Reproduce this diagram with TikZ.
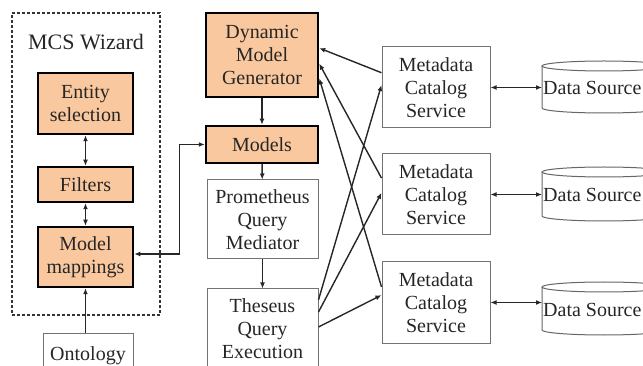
\documentclass[tikz,border=0pt]{standalone}
\usepackage{fontspec}
\setmainfont{Liberation Serif}
\newfontfamily\serf{Liberation Serif}
\usetikzlibrary{arrows.meta,calc}
\definecolor{peach}{RGB}{250,200,158}
\begin{document}
\begin{tikzpicture}[x=1pt,y=-1pt,
 txt/.style={font=\serf\fontsize{20}{23}\selectfont, text=black!85, align=center},
 obox/.style={txt, draw=black, line width=2.5pt, fill=peach, inner sep=0pt},
 wbox/.style={txt, draw=black!55, line width=1pt, fill=white, inner sep=0pt},
 wizbox/.style={draw=black!80, dash pattern=on 3pt off 2pt, line width=1.3pt, inner sep=0pt},
 arr/.style={-{Latex[length=6pt,width=5pt]}, line width=1.4pt, draw=black!85},
 biarr/.style={{Latex[length=6pt,width=5pt]}-{Latex[length=6pt,width=5pt]}, line width=1.4pt, draw=black!85},
 cyl/.style={draw=black!60, line width=1pt}]
\useasboundingbox (0,0) rectangle (643,366);
% wizard frame
\node[wizbox, minimum width=148pt, minimum height=302pt] (wiz) at (86,164) {};
\node[txt, font=\serf\fontsize{22}{24}\selectfont] (title) at (86,42) {MCS Wizard};
\node[obox, minimum width=95pt, minimum height=61pt] (ent) at (85.5,103.5) {Entity\\selection};
\node[obox, minimum width=95pt, minimum height=35pt] (fil) at (85.5,184.5) {Filters};
\node[obox, minimum width=95pt, minimum height=60pt] (mm) at (85.5,257) {Model\\mappings};
\node[wbox, minimum width=90pt, minimum height=45pt] (ont) at (88,355.5) {Ontology};
% middle column
\node[obox, minimum width=112pt, minimum height=84pt] (dmg) at (262,55) {Dynamic\\Model\\Generator};
\node[obox, minimum width=112pt, minimum height=37pt] (mod) at (262,144.5) {Models};
\node[wbox, minimum width=111pt, minimum height=79pt] (pqm) at (262.5,219.5) {Prometheus\\Query\\Mediator};
\node[wbox, minimum width=111pt, minimum height=80pt] (tqe) at (262.5,329) {Theseus\\Query\\Execution};
% catalog services
\node[wbox, minimum width=108pt, minimum height=81pt] (mcs1) at (436,87.5) {Metadata\\Catalog\\Service};
\node[wbox, minimum width=108pt, minimum height=81pt] (mcs2) at (436,194.5) {Metadata\\Catalog\\Service};
\node[wbox, minimum width=108pt, minimum height=81pt] (mcs3) at (436,302.5) {Metadata\\Catalog\\Service};
% data sources
\foreach \n/\t/\b in {1/61/113, 2/167/221, 3/282/335} {
  \draw[cyl] (542,\t+5) -- (542,\b-5) arc[start angle=180, end angle=0, x radius=62, y radius=5] -- (666,\t+5);
  \draw[cyl] (604,\t+5) ellipse[x radius=62, y radius=5];
  \node[txt, anchor=west, inner sep=1pt] (ds\n) at (542,{(\t+\b)/2+1}) {Data Source};
  \draw[biarr] (mcs\n.east) -- (mcs\n.east -| ds\n.west);
}
% wizard internal
\draw[biarr] (ent) -- (fil);
\draw[biarr] (fil) -- (mm);
\draw[arr] (mm.south |- ont.north) -- (mm.south);
\draw[biarr] (mod.west) -- ++(-25,0) |- ([yshift=3pt]mm.east);
% middle chain
\draw[arr] (dmg) -- (mod);
\draw[arr] (mod) -- (pqm);
\draw[arr] (pqm) -- (tqe);
% cross links
\draw[arr] ($(mcs1.north west)!0.32!(mcs1.south west)$) -- ($(dmg.north east)!0.42!(dmg.south east)$);
\draw[arr] ($(mcs2.north west)!0.30!(mcs2.south west)$) -- ($(dmg.north east)!0.60!(dmg.south east)$);
\draw[arr] ($(mcs3.north west)!0.31!(mcs3.south west)$) -- ($(dmg.north east)!0.77!(dmg.south east)$);
\draw[arr] ($(tqe.north east)!0.14!(tqe.south east)$) -- ($(mcs1.north west)!0.47!(mcs1.south west)$);
\draw[arr] ($(tqe.north east)!0.29!(tqe.south east)$) -- ($(mcs2.north west)!0.48!(mcs2.south west)$);
\draw[arr] ($(tqe.north east)!0.475!(tqe.south east)$) -- ($(mcs3.north west)!0.41!(mcs3.south west)$);
\end{tikzpicture}
\end{document}
